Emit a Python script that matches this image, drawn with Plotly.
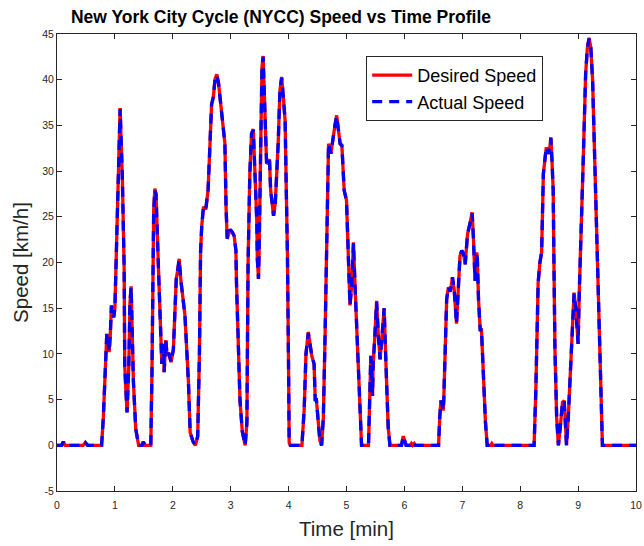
import plotly.graph_objects as go

# NYCC drive cycle: time in minutes, speed in km/h
time_min = [
    0.00, 0.08, 0.11, 0.14, 0.45, 0.49, 0.53, 0.77, 0.80, 0.84, 0.86, 0.88, 0.90, 0.92, 0.94,
    0.96, 0.98, 1.00, 1.03, 1.06, 1.09, 1.11, 1.13, 1.16, 1.17, 1.19, 1.21, 1.24, 1.26, 1.28,
    1.30, 1.32, 1.36, 1.41, 1.47, 1.49, 1.52, 1.62, 1.64, 1.66, 1.67, 1.69, 1.71, 1.75, 1.79,
    1.81, 1.84, 1.85, 1.88, 1.90, 1.93, 1.97, 2.01, 2.06, 2.08, 2.11, 2.14, 2.17, 2.21, 2.27,
    2.30, 2.35, 2.39, 2.43, 2.46, 2.48, 2.50, 2.53, 2.57, 2.61, 2.64, 2.67, 2.70, 2.73, 2.76,
    2.79, 2.84, 2.90, 2.92, 2.94, 2.99, 3.03, 3.06, 3.09, 3.10, 3.13, 3.16, 3.20, 3.25, 3.28,
    3.30, 3.33, 3.36, 3.39, 3.42, 3.45, 3.46, 3.48, 3.49, 3.52, 3.54, 3.56, 3.59, 3.62, 3.65,
    3.67, 3.69, 3.72, 3.74, 3.77, 3.79, 3.82, 3.85, 3.88, 3.91, 3.94, 3.96, 3.98, 4.00, 4.01,
    4.03, 4.23, 4.27, 4.30, 4.34, 4.37, 4.40, 4.44, 4.45, 4.46, 4.48, 4.51, 4.54, 4.57, 4.60,
    4.63, 4.66, 4.69, 4.73, 4.76, 4.80, 4.83, 4.86, 4.89, 4.92, 4.96, 5.00, 5.03, 5.06, 5.09,
    5.12, 5.15, 5.18, 5.22, 5.26, 5.38, 5.40, 5.42, 5.45, 5.46, 5.49, 5.52, 5.55, 5.58, 5.62,
    5.65, 5.67, 5.69, 5.72, 5.75, 5.95, 5.98, 6.01, 6.03, 6.10, 6.12, 6.14, 6.17, 6.19, 6.59,
    6.61, 6.63, 6.65, 6.67, 6.68, 6.70, 6.73, 6.76, 6.79, 6.81, 6.83, 6.86, 6.88, 6.90, 6.93,
    6.96, 6.99, 7.02, 7.05, 7.09, 7.13, 7.17, 7.19, 7.21, 7.22, 7.25, 7.26, 7.28, 7.31, 7.33,
    7.36, 7.40, 7.43, 7.49, 7.51, 7.53, 8.24, 8.27, 8.31, 8.34, 8.37, 8.40, 8.45, 8.49, 8.51,
    8.53, 8.55, 8.57, 8.58, 8.60, 8.63, 8.66, 8.70, 8.73, 8.76, 8.78, 8.80, 8.83, 8.86, 8.89,
    8.93, 8.96, 9.00, 9.02, 9.05, 9.09, 9.13, 9.16, 9.19, 9.22, 9.25, 9.29, 9.33, 9.37, 9.40,
    9.42, 10.00,
]

desired_speed = [
    0.0, 0.0, 0.4, 0.0, 0.0, 0.3, 0.0, 0.0, 3.0, 10.0, 12.2, 11.5, 10.2, 12.0, 15.3,
    14.5, 14.0, 15.0, 23.5, 31.5, 36.9, 33.0, 28.9, 19.3, 8.7, 6.0, 3.6, 8.7, 15.6, 17.4,
    12.0, 6.9, 1.8, 0.0, 0.0, 0.4, 0.0, 0.0, 8.0, 21.5, 25.7, 28.1, 27.5, 19.8, 10.9,
    8.9, 11.1, 8.0, 11.5, 9.8, 10.1, 9.1, 10.5, 18.2, 19.0, 20.4, 18.0, 16.4, 14.2, 6.9,
    1.4, 0.4, 0.0, 1.0, 10.0, 21.3, 24.0, 26.1, 25.8, 28.0, 33.0, 37.3, 38.1, 40.1, 40.6,
    39.6, 36.6, 33.0, 26.0, 22.6, 23.6, 23.3, 22.9, 21.3, 17.8, 11.0, 5.0, 1.5, 0.0, 2.5,
    19.8, 29.7, 34.1, 34.6, 29.7, 24.6, 20.4, 18.2, 21.0, 37.0, 41.4, 42.6, 35.2, 30.8, 31.0,
    31.3, 27.9, 25.8, 25.1, 26.5, 28.6, 33.0, 38.8, 40.3, 38.0, 35.5, 28.0, 20.9, 8.0, 0.3,
    0.0, 0.0, 4.0, 10.0, 12.4, 11.0, 9.8, 8.9, 6.0, 5.0, 5.0, 2.5, 0.5, 0.0, 3.0,
    12.0, 21.5, 33.0, 31.9, 33.5, 35.0, 36.1, 34.5, 33.0, 32.8, 27.9, 26.8, 19.8, 15.3, 17.5,
    22.2, 17.0, 12.4, 5.0, 0.0, 0.0, 5.0, 9.8, 5.4, 8.8, 12.0, 15.8, 12.0, 9.4, 12.5,
    15.0, 11.0, 6.1, 2.0, 0.0, 0.0, 1.0, 0.3, 0.0, 0.0, 0.2, 0.0, 0.2, 0.0, 0.0,
    3.0, 4.9, 4.5, 3.8, 5.0, 10.0, 16.0, 17.3, 16.8, 17.5, 18.4, 17.0, 14.5, 13.3, 17.0,
    20.7, 21.3, 21.0, 19.8, 23.1, 24.2, 25.5, 23.0, 19.8, 18.0, 21.1, 20.4, 16.0, 12.5, 12.8,
    8.0, 2.5, 0.0, 0.0, 0.2, 0.0, 0.0, 6.0, 17.8, 20.0, 21.1, 29.7, 32.6, 31.9, 32.5,
    33.7, 31.0, 27.9, 21.5, 10.5, 3.0, 0.0, 2.5, 4.7, 4.9, 2.5, 0.0, 3.0, 7.0, 12.0,
    16.7, 15.0, 11.1, 16.7, 22.0, 31.5, 40.6, 43.5, 44.6, 43.5, 40.0, 30.0, 20.0, 10.0, 2.0,
    0.0, 0.0,
]

actual_speed = [
    0.0, 0.0, 0.4, 0.0, 0.0, 0.3, 0.0, 0.0, 3.0, 10.0, 12.2, 11.5, 10.2, 12.0, 15.3,
    14.5, 14.0, 15.0, 23.5, 31.5, 36.8, 33.0, 28.9, 19.3, 8.7, 6.0, 3.6, 8.7, 15.6, 17.3,
    12.0, 6.9, 1.8, 0.0, 0.0, 0.4, 0.0, 0.0, 8.0, 21.5, 25.7, 27.9, 27.5, 19.8, 10.9,
    8.9, 11.1, 8.0, 11.5, 9.8, 10.1, 9.1, 10.5, 18.2, 19.0, 20.3, 18.0, 16.4, 14.2, 6.9,
    1.4, 0.4, 0.0, 1.0, 10.0, 21.3, 24.0, 26.1, 25.8, 28.0, 33.0, 37.3, 38.1, 40.1, 40.5,
    39.6, 36.6, 33.0, 26.0, 22.6, 23.6, 23.3, 22.9, 21.3, 17.8, 11.0, 5.0, 1.5, 0.0, 2.5,
    19.8, 29.7, 34.1, 34.5, 29.7, 24.6, 20.4, 18.2, 21.0, 37.0, 41.4, 42.5, 35.2, 30.8, 31.0,
    31.3, 27.9, 25.8, 25.1, 26.5, 28.6, 33.0, 38.8, 40.2, 38.0, 35.5, 28.0, 20.9, 8.0, 0.3,
    0.0, 0.0, 4.0, 10.0, 12.3, 11.0, 9.8, 8.9, 6.0, 5.0, 5.0, 2.5, 0.5, 0.0, 3.0,
    12.0, 21.5, 33.0, 31.9, 33.5, 35.0, 36.0, 34.5, 33.0, 32.8, 27.9, 26.8, 19.8, 15.3, 17.5,
    22.1, 17.0, 12.4, 5.0, 0.0, 0.0, 5.0, 9.8, 5.4, 8.8, 12.0, 15.7, 12.0, 9.4, 12.5,
    15.0, 11.0, 6.1, 2.0, 0.0, 0.0, 1.0, 0.3, 0.0, 0.0, 0.2, 0.0, 0.2, 0.0, 0.0,
    3.0, 4.9, 4.5, 3.8, 5.0, 10.0, 16.0, 17.3, 16.8, 17.5, 18.4, 17.0, 14.5, 13.3, 17.0,
    20.7, 21.3, 21.0, 19.8, 23.1, 24.2, 25.4, 23.0, 19.8, 18.0, 21.1, 20.4, 16.0, 12.5, 12.8,
    8.0, 2.5, 0.0, 0.0, 0.2, 0.0, 0.0, 6.0, 17.8, 20.0, 21.1, 29.7, 32.6, 31.9, 32.5,
    33.6, 31.0, 27.9, 21.5, 10.5, 3.0, 0.0, 2.5, 4.7, 4.9, 2.5, 0.0, 3.0, 7.0, 12.0,
    16.6, 15.0, 11.1, 16.7, 22.0, 31.5, 40.6, 43.5, 44.5, 43.5, 40.0, 30.0, 20.0, 10.0, 2.0,
    0.0, 0.0,
]

x_ticks = list(range(0, 11))
y_ticks = [-5, 0, 5, 10, 15, 20, 25, 30, 35, 40, 45]
y_tick_labels = ["-5", "0", "5", "10", "15", "20", "25", "30", "35", "40", "45"]

FONT = "Liberation Sans, Arial, Helvetica, sans-serif"
AXIS_COLOR = "#262626"

fig = go.Figure()
fig.add_trace(go.Scatter(
    x=time_min, y=desired_speed, mode="lines", name="Desired Speed",
    line=dict(color="#ff0000", width=3.3),
))
fig.add_trace(go.Scatter(
    x=time_min, y=actual_speed, mode="lines", name="Actual Speed",
    line=dict(color="#0000ff", width=3.3, dash="10px,7px"),
))

axis_common = dict(
    showgrid=False, zeroline=False, showline=True, linecolor=AXIS_COLOR, linewidth=1,
    mirror="ticks", ticks="inside", ticklen=5, tickcolor=AXIS_COLOR,
    tickfont=dict(family=FONT, size=10.5, color=AXIS_COLOR),
    automargin=False,
)

fig.update_layout(
    width=644, height=546,
    margin=dict(l=57, r=8, t=34, b=55),
    paper_bgcolor="white", plot_bgcolor="white",
    title=dict(
        text="<b>New York City Cycle (NYCC) Speed vs Time Profile</b>",
        font=dict(family=FONT, size=17.5, color="black"),
        x=0.3868, xref="paper", xanchor="center",
        y=1 - 17 / 546, yref="container", yanchor="middle",
        automargin=False,
    ),
    xaxis=dict(
        range=[0, 10], tickvals=x_ticks, ticklabelstandoff=4,
        title=dict(text="Time [min]", font=dict(family=FONT, size=20.5, color=AXIS_COLOR), standoff=12),
        **axis_common,
    ),
    yaxis=dict(
        range=[-5, 45], tickvals=y_ticks, ticktext=y_tick_labels,
        title=dict(text="Speed [km/h]", font=dict(family=FONT, size=20.5, color=AXIS_COLOR), standoff=8),
        **axis_common,
    ),
    legend=dict(
        x=0.534, y=0.952, xanchor="left", yanchor="top",
        bgcolor="white", bordercolor=AXIS_COLOR, borderwidth=1,
        font=dict(family=FONT, size=18, color="black"),
        itemwidth=40, tracegroupgap=0,
    ),
    showlegend=True,
)

fig.write_html("out.html")
